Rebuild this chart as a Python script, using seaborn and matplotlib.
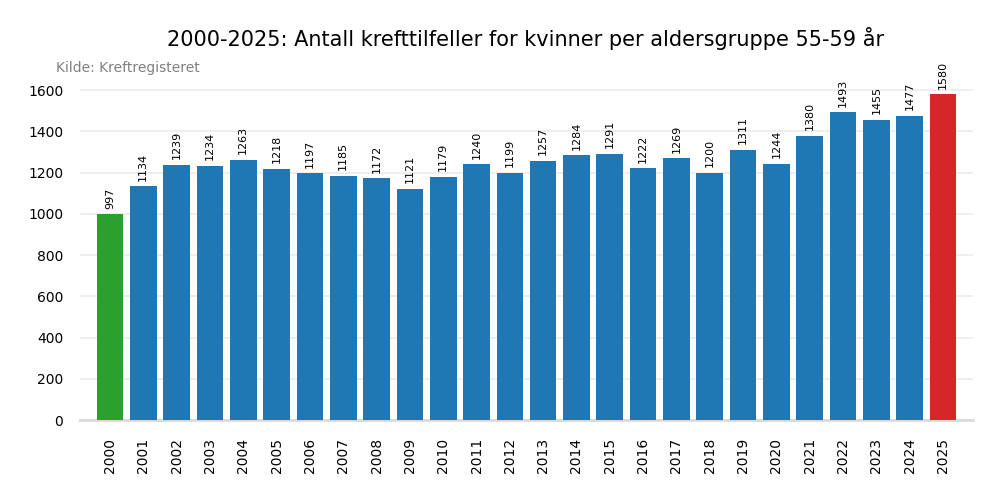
import numpy as np
import matplotlib
matplotlib.use("Agg")
import matplotlib.pyplot as plt
import seaborn as sns
import pandas as pd

years = [str(y) for y in range(2000, 2026)]
cases = [997, 1134, 1239, 1234, 1263, 1218, 1197, 1185, 1172, 1121, 1179, 1240, 1199,
         1257, 1284, 1291, 1222, 1269, 1200, 1311, 1244, 1380, 1493, 1455, 1477, 1580]

title = "2000-2025: Antall krefttilfeller for kvinner per aldersgruppe 55-59 år"
source = "Kilde: Kreftregisteret"

sns.set_style("white")
plt.rcParams['font.family'] = ['DejaVu Sans']
plt.rcParams['text.color'] = 'black'
plt.rcParams['xtick.color'] = 'black'
plt.rcParams['ytick.color'] = 'black'

df = pd.DataFrame({"year": years, "cases": cases})
colors = ["#1f77b4"] * len(years)
colors[0] = "#2ca02c"
colors[-1] = "#d62728"

fig = plt.figure(figsize=(10, 5), dpi=100)
ax = fig.add_axes([0.08, 0.16, 0.893, 0.684])
sns.barplot(data=df, x="year", y="cases", hue="year", palette=colors, legend=False,
            width=0.8, saturation=1, linewidth=0, edgecolor="none", ax=ax, zorder=3)

for i, v in enumerate(cases):
    ax.annotate(str(v), (i, v), xytext=(0, 4), textcoords="offset points",
                rotation=90, ha="center", va="bottom", fontsize=8, color="black")

ax.set_xlim(-0.9, 25.9)
ax.set_ylim(0, 1659)
ax.set_yticks(range(0, 1601, 200))
ax.grid(axis="y", color="#ebebeb", linewidth=1.2, zorder=0)
for s in ["top", "right", "left"]:
    ax.spines[s].set_visible(False)
ax.spines["bottom"].set_color("#d9d9d9")
ax.spines["bottom"].set_linewidth(2)
ax.tick_params(axis="x", rotation=90, labelsize=10, length=0, pad=13)
ax.tick_params(axis="y", labelsize=10, length=0, pad=12)
ax.set_xlabel("")
ax.set_ylabel("")

fig.text(0.526, 0.922, title, ha="center", va="center", fontsize=15, color="black")
fig.text(0.056, 0.864, source, ha="left", va="center", fontsize=10, color="#808080")

fig.savefig("out.png", dpi=100)
plt.close(fig)
